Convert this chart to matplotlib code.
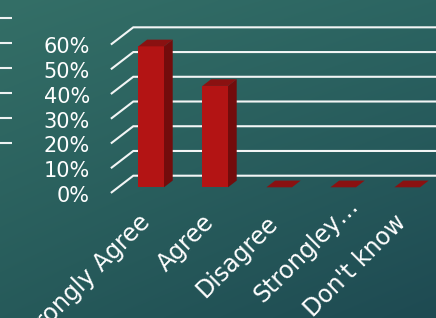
import numpy as np
import matplotlib.pyplot as plt
from matplotlib.patches import Polygon
from matplotlib.transforms import offset_copy

# Data
categories = ['Strongly Agree', 'Agree', 'Disagree', 'Strongley…', "Don't know"]
values = [57, 41, 0, 0, 0]  # percent
y_ticks = [0, 10, 20, 30, 40, 50, 60]
y_labels = ['0%', '10%', '20%', '30%', '40%', '50%', '60%']

W, H = 436, 318
fig = plt.figure(figsize=(W / 100, H / 100), dpi=100)

# slide background (teal gradient) + decoration on the left edge
bg = fig.add_axes([0, 0, 1, 1])
gy, gx = np.mgrid[0:1:H * 1j, 0:1:W * 1j]
tl = np.array([52, 111, 103])
tr = np.array([44, 101, 98])
bl = np.array([38, 90, 90])
br = np.array([30, 74, 82])
img = (((1 - gx) * (1 - gy))[..., None] * tl + (gx * (1 - gy))[..., None] * tr
       + ((1 - gx) * gy)[..., None] * bl + (gx * gy)[..., None] * br) / 255
bg.imshow(img, extent=(0, W, H, 0), aspect='auto')
for k in range(6):
    bg.plot([0, 12], [18.3 + 25 * k] * 2, color='#eef2f2', lw=1.5, solid_capstyle='butt')
bg.set_xlim(0, W)
bg.set_ylim(H, 0)
bg.axis('off')

# chart axes: x in category units, y in percent (front plane of the bars)
px_x, px_y = 64.0, 2.473
x0, y0 = 151.2, 187.3
ax = fig.add_axes([0, 0, 1, 1])
ax.set_xlim(-x0 / px_x, (W - x0) / px_x)
ax.set_ylim((y0 - H) / px_y, y0 / px_y)
ax.axis('off')
ax.patch.set_alpha(0)

# 3D wall geometry
front_x, front_dy = -0.617, -2.02
back_x, back_dy = -0.28, 4.69
bar_dx, bar_dy = 0.136, 2.71
bw = 0.40

for t, lab in zip(y_ticks, y_labels):
    ax.plot([front_x, back_x, 6], [t + front_dy, t + back_dy, t + back_dy],
            color='#f2f5f5', lw=1.5, zorder=1, solid_joinstyle='miter')
    ax.text(-0.956, t - 5.86, lab, ha='right', va='baseline', color='white', fontsize=15)

x = np.arange(len(categories))
ax.bar(x, values, width=bw, color='#b31414', zorder=3)
for xi, v in zip(x, values):
    l, r = xi - bw / 2, xi + bw / 2
    if v > 0:
        ax.add_patch(Polygon([(r, 0), (r + bar_dx, bar_dy), (r + bar_dx, v + bar_dy), (r, v)],
                             closed=True, color='#730c0c', zorder=3, lw=0))
    ax.add_patch(Polygon([(l, v), (r, v), (r + bar_dx, v + bar_dy), (l + bar_dx, v + bar_dy)],
                         closed=True, color='#8a1111', zorder=3, lw=0))

# category labels, rotated; the trailing ellipsis overhangs the anchor
for xi, cat in zip(x, categories):
    tr_ = ax.transData
    if cat.endswith('…'):
        tr_ = offset_copy(ax.transData, fig=fig, x=12, y=12, units='points')
    ax.text(xi, -14.8, cat, rotation=45, rotation_mode='anchor', ha='right',
            va='baseline', fontsize=17, color='white', transform=tr_)

fig.savefig('out.png', dpi=100)
